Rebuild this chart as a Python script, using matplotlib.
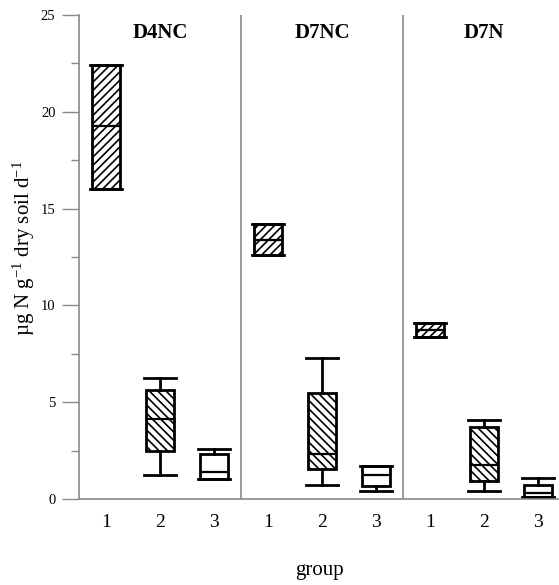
import numpy as np
import matplotlib
matplotlib.use("Agg")
import matplotlib.pyplot as plt
import matplotlib.transforms as mtransforms

plt.rcParams["font.family"] = ["Liberation Serif", "DejaVu Serif"]
plt.rcParams["mathtext.fontset"] = "custom"
plt.rcParams["mathtext.rm"] = "Liberation Serif"
plt.rcParams["mathtext.it"] = "Liberation Serif:italic"
plt.rcParams["hatch.linewidth"] = 1.2

# Datos (tres paneles x tres grupos)
paneles = ["D4NC", "D7NC", "D7N"]
grupos = ["1", "2", "3"]
bigotes_inf = [16.0, 1.25, 1.03, 12.6, 0.72, 0.41, 8.37, 0.41, 0.12]
q1 = [16.0, 2.48, 1.03, 12.6, 1.55, 0.67, 8.37, 0.93, 0.12]
mediana = [19.25, 4.15, 1.4, 13.38, 2.3, 1.22, 8.73, 1.76, 0.32]
q3 = [22.4, 5.63, 2.32, 14.2, 5.48, 1.68, 9.09, 3.72, 0.72]
bigotes_sup = [22.4, 6.25, 2.58, 14.2, 7.28, 1.7, 9.09, 4.08, 1.08]
tramas = ["////", "\\\\\\\\", ""] * 3

stats = []
for i in range(len(q1)):
    stats.append({
        "whislo": bigotes_inf[i], "q1": q1[i], "med": mediana[i],
        "q3": q3[i], "whishi": bigotes_sup[i], "fliers": [],
    })

posiciones = np.arange(1, len(stats) + 1)

fig = plt.figure(figsize=(5.59, 5.85), dpi=100)
ax = fig.add_axes([79 / 559, 1 - 499 / 585, 1 - 79 / 559, 484 / 585])

res = ax.bxp(stats, positions=posiciones, widths=0.52, capwidths=0.6,
             patch_artist=True, showfliers=False,
             boxprops=dict(facecolor="white", edgecolor="black", linewidth=2),
             whiskerprops=dict(color="black", linewidth=2),
             capprops=dict(color="black", linewidth=2),
             medianprops=dict(color="black", linewidth=1.6))
for caja, trama in zip(res["boxes"], tramas):
    caja.set_hatch(trama)

for x in [3.5, 6.5]:
    ax.axvline(x, color="#8a8a8a", linewidth=1.2)

ax.set_xlim(0.5, 9.39)
ax.set_ylim(0, 25)
ax.set_xticks(posiciones)
ax.set_xticklabels(grupos * 3, fontsize=14)
ax.set_yticks(np.arange(0, 26, 5))
ax.set_yticks(np.arange(2.5, 25, 5), minor=True)
ax.tick_params(axis="y", which="major", length=12, width=1, color="#8a8a8a",
               labelsize=10.5, pad=5)
ax.tick_params(axis="y", which="minor", length=6, width=1, color="#8a8a8a")
ax.tick_params(axis="x", length=0, pad=11)

for lado in ["top", "right"]:
    ax.spines[lado].set_visible(False)
for lado in ["left", "bottom"]:
    ax.spines[lado].set_color("#8a8a8a")
    ax.spines[lado].set_linewidth(1.2)

trans = mtransforms.blended_transform_factory(ax.transData, ax.transAxes)
for k, nombre in enumerate(paneles):
    ax.text(2 + 3 * k, 0.963, nombre, transform=trans, ha="center", va="center",
            fontsize=15, fontweight="bold")

fig.text(24 / 559, 1 - 248 / 585, r"µg N g$^{-1}$ dry soil d$^{-1}$",
         rotation=90, ha="center", va="center", fontsize=15)
fig.text(319 / 559, 1 - 570 / 585, "group", ha="center", va="center", fontsize=15)

plt.savefig("out.png", dpi=100)
